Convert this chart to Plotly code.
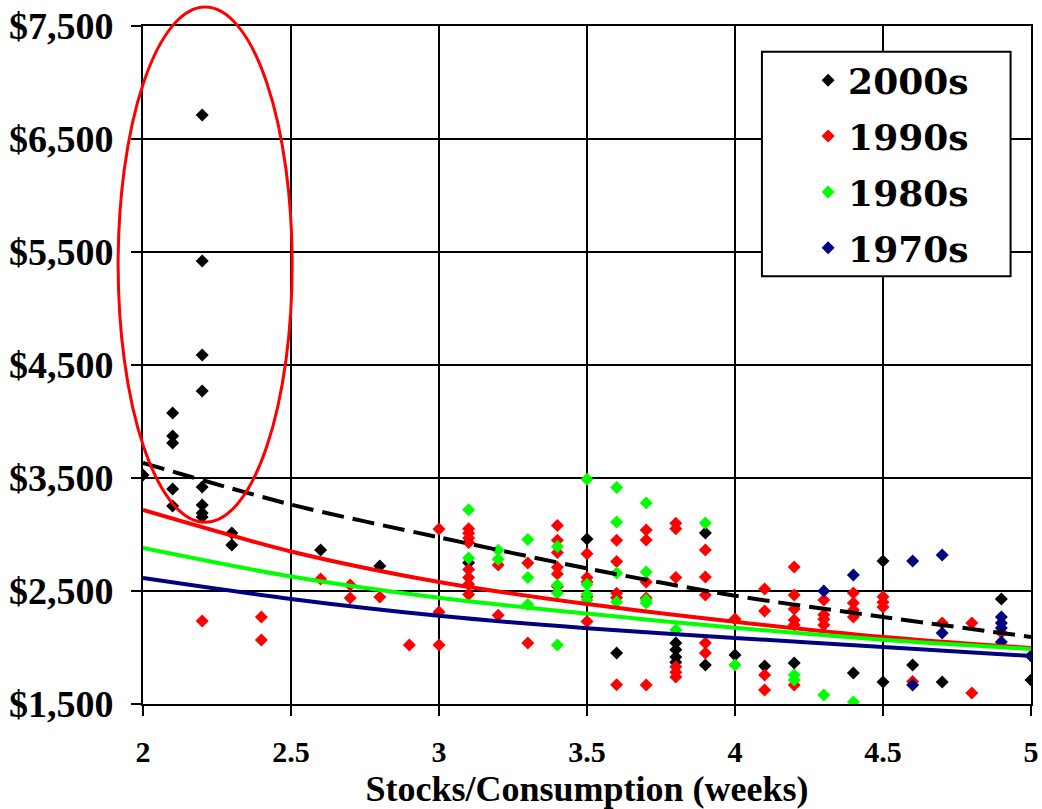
import plotly.graph_objects as go

# ---- data ----
x_2000s = [2.0, 2.1, 2.1, 2.1, 2.1, 2.1, 2.2, 2.2, 2.2, 2.2, 2.2, 2.2, 2.2, 2.2, 2.3, 2.3,
           2.6, 2.8, 3.1, 3.5, 3.6, 3.8, 3.8, 3.8, 3.8, 3.9, 3.9, 4.0, 4.1, 4.2, 4.4,
           4.5, 4.5, 4.6, 4.7, 4.9, 5.0]
y_2000s = [3527, 4075, 3872, 3810, 3403, 3252, 6713, 5420, 4589, 4270, 3420, 3261, 3190, 3155, 3013, 2907,
           2863, 2721, 2750, 2960, 1951, 2040, 1980, 1915, 1870, 3013, 1845, 1934, 1836, 1863, 1774,
           2766, 1695, 1845, 1695, 2429, 1712]

x_1990s = [2.2, 2.4, 2.4, 2.6, 2.7, 2.7, 2.8, 2.9, 3.0, 3.0, 3.0,
           3.1, 3.1, 3.1, 3.1, 3.1, 3.1, 3.1, 3.1, 3.2, 3.2, 3.3, 3.3,
           3.4, 3.4, 3.4, 3.4, 3.4, 3.4, 3.5, 3.5, 3.5, 3.5, 3.5,
           3.6, 3.6, 3.6, 3.6, 3.6, 3.7, 3.7, 3.7, 3.7, 3.7,
           3.8, 3.8, 3.8, 3.8, 3.8, 3.8, 3.9, 3.9, 3.9, 3.9, 3.9, 4.0,
           4.1, 4.1, 4.1, 4.1, 4.2, 4.2, 4.2, 4.2, 4.2, 4.2,
           4.3, 4.3, 4.3, 4.3, 4.4, 4.4, 4.4, 4.4, 4.5, 4.5, 4.5,
           4.6, 4.7, 4.8, 4.8, 4.9]
y_1990s = [2235, 2270, 2066, 2606, 2553, 2438, 2447, 2022, 3049, 2314, 2022,
           3050, 3010, 2970, 2930, 2690, 2620, 2560, 2470, 2730, 2285, 2748, 2040,
           3080, 2950, 2840, 2710, 2650, 2540, 2830, 2620, 2580, 2450, 2230,
           2950, 2760, 2480, 2440, 1670, 3040, 2951, 2580, 2438, 1668,
           3100, 3050, 2620, 1830, 1780, 1740, 2863, 2624, 2465, 2040, 1951, 2252,
           2518, 2323, 1757, 1624, 2712, 2465, 2341, 2243, 2199, 1668,
           2420, 2290, 2250, 2200, 2482, 2394, 2332, 2270, 2450, 2400, 2358,
           1700, 2217, 2217, 1597, 2133]

x_1980s = [3.1, 3.1, 3.2, 3.2, 3.3, 3.3, 3.3, 3.4, 3.4, 3.4, 3.4,
           3.5, 3.5, 3.5, 3.5, 3.6, 3.6, 3.6, 3.6, 3.7, 3.7, 3.7, 3.7,
           3.8, 3.9, 4.0, 4.2, 4.2, 4.3, 4.4]
y_1980s = [3220, 2792, 2860, 2780, 2955, 2620, 2380, 2893, 2553, 2482, 2022,
           3490, 2560, 2470, 2420, 3415, 3111, 2660, 2403, 3279, 2668, 2420, 2394,
           2155, 3102, 1845, 1757, 1712, 1580, 1518]

x_1970s = [4.3, 4.4, 4.6, 4.6, 4.7, 4.7, 4.9, 4.9, 4.9, 4.9, 5.0]
y_1970s = [2500, 2642, 2766, 1668, 2819, 2128, 2270, 2217, 2173, 2049, 1925]

# trend lines read at the x tick positions
trend_x = [2.0, 2.5, 3.0, 3.5, 4.0, 4.5, 5.0]
trend_2000s = [3633, 3265, 2975, 2700, 2458, 2270, 2093]
trend_1990s = [3217, 2850, 2580, 2385, 2228, 2093, 1996]
trend_1980s = [2881, 2628, 2440, 2300, 2174, 2068, 1987]
trend_1970s = [2615, 2429, 2280, 2170, 2085, 2004, 1925]

series_names = ["2000s", "1990s", "1980s", "1970s"]
series_colors = ["#000000", "#FF0000", "#00FF00", "#000080"]

x_ticks = [2, 2.5, 3, 3.5, 4, 4.5, 5]
x_ticktext = ["2", "2.5", "3", "3.5", "4", "4.5", "5"]
y_ticks = [1500, 2500, 3500, 4500, 5500, 6500, 7500]
y_ticktext = ["$1,500", "$2,500", "$3,500", "$4,500", "$5,500", "$6,500", "$7,500"]

FONT = "Liberation Serif"
LEGEND_FONT = "DejaVu Serif"

fig = go.Figure()

xs = [x_2000s, x_1990s, x_1980s, x_1970s]
ys = [y_2000s, y_1990s, y_1980s, y_1970s]
for name, col, xv, yv in zip(series_names, series_colors, xs, ys):
    fig.add_trace(go.Scatter(
        x=xv, y=yv, mode="markers", name=name, legendgroup=name,
        marker=dict(symbol="diamond", size=10, color=col, line=dict(width=0)),
    ))

trends = [trend_2000s, trend_1990s, trend_1980s, trend_1970s]
dashes = ["22px,9px", "solid", "solid", "solid"]
for col, tv, dsh in zip(series_colors, trends, dashes):
    fig.add_trace(go.Scatter(
        x=trend_x, y=tv, mode="lines", showlegend=False, hoverinfo="skip",
        line=dict(color=col, width=4, dash=dsh, shape="spline", smoothing=0.8),
    ))

fig.update_layout(
    width=1042, height=809,
    margin=dict(l=143, r=11, t=26, b=105, autoexpand=False),
    paper_bgcolor="white", plot_bgcolor="white",
    showlegend=True,
    legend=dict(
        x=0.749, y=0.964, xanchor="left", yanchor="top",
        bgcolor="rgba(0,0,0,0)", borderwidth=0,
        font=dict(family=LEGEND_FONT, size=36, color="black", weight="bold"),
        itemwidth=30, tracegroupgap=6,
    ),
    shapes=[
        # legend frame
        dict(type="rect", xref="paper", yref="paper",
             x0=0.697, x1=0.977, y0=0.631, y1=0.962,
             fillcolor="white", line=dict(color="black", width=2), layer="above"),
        # highlight ellipse
        dict(type="circle", xref="paper", yref="paper",
             x0=-0.028, x1=0.168, y0=0.268, y1=1.028,
             line=dict(color="#FF0000", width=3), layer="above"),
    ],
)

fig.update_xaxes(
    range=[2, 5], tickvals=x_ticks, ticktext=x_ticktext, automargin=False,
    showgrid=True, gridcolor="black", gridwidth=1.5,
    showline=True, linecolor="black", linewidth=2, mirror=True,
    ticks="outside", ticklen=10, tickwidth=1.5, tickcolor="black",
    ticklabelstandoff=10,
    tickfont=dict(family=FONT, size=30, color="black", weight="bold"),
    title=dict(text="Stocks/Consumption (weeks)", standoff=14,
               font=dict(family=FONT, size=36, color="black", weight="bold")),
    zeroline=False,
)
fig.update_yaxes(
    range=[1500, 7500], tickvals=y_ticks, ticktext=y_ticktext, automargin=False,
    showgrid=True, gridcolor="black", gridwidth=1.5,
    showline=True, linecolor="black", linewidth=2, mirror=True,
    ticks="outside", ticklen=10, tickwidth=1.5, tickcolor="black",
    ticklabelstandoff=10,
    tickfont=dict(family=FONT, size=38, color="black", weight="bold"),
    zeroline=False,
)

fig.write_html("out.html")
